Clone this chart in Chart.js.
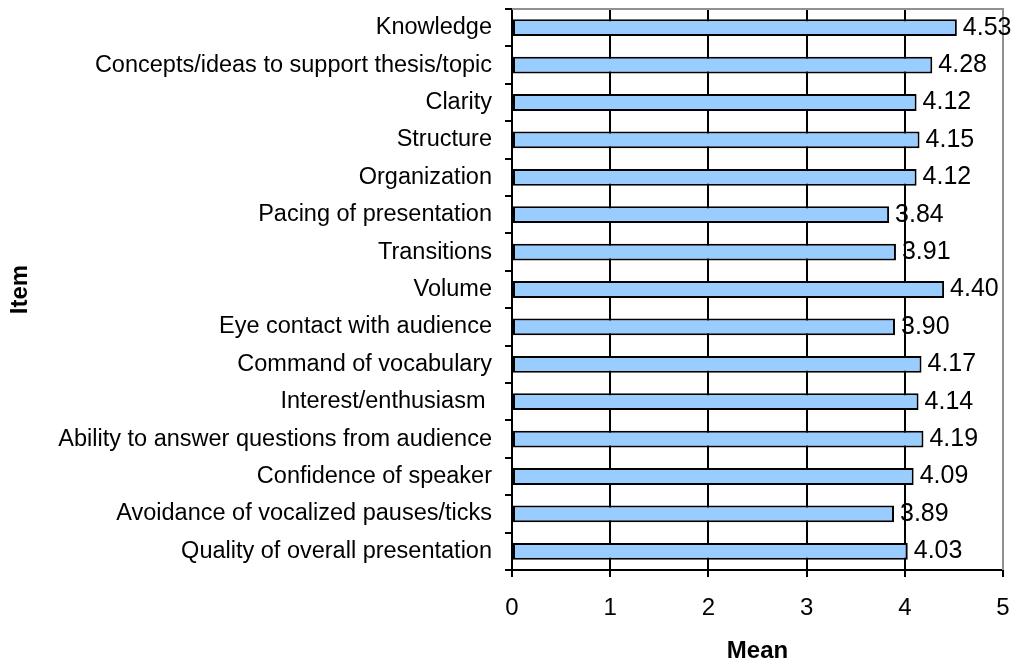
<!DOCTYPE html>
<html><head><meta charset="utf-8">
<script src="https://cdn.jsdelivr.net/npm/chart.js@4/dist/chart.umd.min.js"></script>
<style>html,body{margin:0;padding:0;background:#fff}#wrap{width:1021px;height:667px}</style>
</head><body><div id="wrap"><canvas id="c" width="1021" height="667"></canvas></div>
<script>
const categories = ["Knowledge","Concepts/ideas to support thesis/topic","Clarity","Structure","Organization","Pacing of presentation","Transitions","Volume","Eye contact with audience","Command of vocabulary","Interest/enthusiasm ","Ability to answer questions from audience","Confidence of speaker","Avoidance of vocalized pauses/ticks","Quality of overall presentation"];
const means = [4.53,4.28,4.12,4.15,4.12,3.84,3.91,4.40,3.90,4.17,4.14,4.19,4.09,3.89,4.03];
const xTicks = [0,1,2,3,4,5];
const xTitle = "Mean";
const yTitle = "Item";

const FONT = '"Liberation Sans", Arial, sans-serif';

const frame = {
  id:'frame',
  beforeDatasetsDraw(chart){
    const {ctx, chartArea:a} = chart;
    ctx.save();
    ctx.strokeStyle = '#909090'; ctx.lineWidth = 2;
    ctx.beginPath(); ctx.moveTo(a.left, a.top); ctx.lineTo(a.right, a.top); ctx.lineTo(a.right, a.bottom); ctx.stroke();
    ctx.restore();
  }
};
const valueLabels = {
  id:'valueLabels',
  afterDatasetsDraw(chart){
    const {ctx} = chart;
    const meta = chart.getDatasetMeta(0);
    ctx.save();
    ctx.font = '25px ' + FONT;
    ctx.fillStyle = '#000'; ctx.textBaseline = 'middle'; ctx.textAlign = 'left';
    meta.data.forEach((bar,i)=>{
      ctx.fillText(means[i].toFixed(2), bar.x + 6, bar.y);
    });
    ctx.restore();
  }
};

new Chart(document.getElementById('c'), {
  type:'bar',
  data:{labels:categories, datasets:[{data:means, backgroundColor:'#99CCFF', borderColor:'#000', borderWidth:2, borderSkipped:false, barPercentage:0.45, categoryPercentage:1}]},
  options:{
    indexAxis:'y', responsive:false, animation:false, devicePixelRatio:1,
    layout:{padding:{top:9,right:18,left:0,bottom:0}},
    plugins:{legend:{display:false}, tooltip:{enabled:false}},
    scales:{
      x:{min:0,max:5,
        afterBuildTicks(s){ s.ticks = xTicks.map(v=>({value:v})); },
        afterFit(s){ s.height = 97; s.paddingLeft = 0; s.paddingRight = 0; },
        grid:{color:'#000', lineWidth:2, tickLength:7, drawOnChartArea:true},
        border:{color:'#000', width:2},
        ticks:{color:'#000', font:{family:FONT, size:24}, padding:17, maxRotation:0},
        title:{display:true, text:xTitle, color:'#000', font:{family:FONT, size:24, weight:'bold'}, padding:{top:0,bottom:1}}
      },
      y:{
        afterFit(s){ s.width = 512; s.paddingTop = 0; s.paddingBottom = 0; },
        grid:{offset:true, color:'#000', lineWidth:2, tickLength:7, drawOnChartArea:false},
        border:{color:'#000', width:2},
        ticks:{color:'#000', font:{family:FONT, size:23.5}, padding:13, autoSkip:false},
        title:{display:true, text:yTitle, color:'#000', font:{family:FONT, size:24, weight:'bold'}, padding:{top:6,bottom:0}}
      }
    }
  },
  plugins:[frame, valueLabels]
});
</script></body></html>
